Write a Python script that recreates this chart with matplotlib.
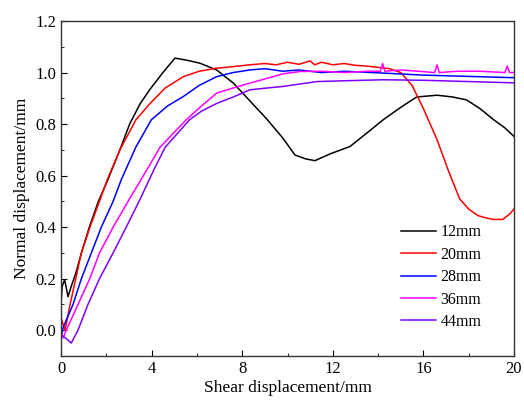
import matplotlib
matplotlib.use("Agg")
import matplotlib.pyplot as plt
from matplotlib.ticker import MultipleLocator

plt.rcParams["font.family"] = ["Liberation Serif", "DejaVu Serif"]

# Data
x12 = [0, 0.05, 0.16, 0.31, 0.45, 0.65, 0.9, 1.25, 1.65, 2.07, 2.6, 3.03, 3.5, 3.93, 4.5,
       5.03, 5.6, 6.14, 6.87, 7.61, 8.34, 9.08, 9.8, 10.33, 10.8, 11.21, 11.9, 12.76, 13.5,
       14.23, 15.0, 15.7, 16.6, 17.3, 17.9, 18.5, 19.1, 19.6, 20]
y12 = [0.10, 0.17, 0.196, 0.13, 0.17, 0.22, 0.30, 0.40, 0.50, 0.584, 0.70, 0.80, 0.88,
       0.935, 1.0, 1.056, 1.047, 1.036, 1.01, 0.959, 0.89, 0.82, 0.745, 0.68, 0.665, 0.658,
       0.685, 0.713, 0.765, 0.817, 0.865, 0.905, 0.912, 0.905, 0.894, 0.86, 0.817, 0.785,
       0.752]

x20 = [0, 0.1, 0.18, 0.4, 0.65, 0.9, 1.28, 2.07, 2.6, 3.31, 3.93, 4.6, 5.4, 6.1, 6.87, 7.5,
       8.34, 9.0, 9.5, 10.0, 10.5, 11.0, 11.2, 11.5, 12.0, 12.5, 13.0, 13.5, 14.0, 14.5,
       15.0, 15.5, 16.0, 16.6, 17.1, 17.6, 18.0, 18.4, 18.8, 19.1, 19.5, 19.8, 20.0]
y20 = [0.05, 0.02, 0.0, 0.10, 0.20, 0.30, 0.40, 0.59, 0.70, 0.817, 0.88, 0.94, 0.984,
       1.005, 1.017, 1.022, 1.03, 1.035, 1.03, 1.04, 1.032, 1.045, 1.03, 1.04, 1.03, 1.035,
       1.028, 1.025, 1.02, 1.015, 1.0, 0.95, 0.86, 0.74, 0.62, 0.51, 0.47, 0.445, 0.435,
       0.43, 0.43, 0.45, 0.47]

x28 = [0, 0.09, 0.53, 0.9, 1.34, 1.78, 2.3, 2.66, 3.3, 3.99, 4.7, 5.4, 6.1, 6.87, 7.6,
       8.34, 9.0, 9.8, 10.5, 11.5, 12.5, 14.2, 16, 18, 20]
y28 = [-0.03, 0.01, 0.10, 0.20, 0.30, 0.40, 0.50, 0.584, 0.71, 0.817, 0.87, 0.907, 0.95,
       0.984, 1.0, 1.01, 1.015, 1.005, 1.01, 1.0, 1.005, 0.998, 0.99, 0.985, 0.98]

x36 = [0, 0.1, 0.18, 0.75, 1.27, 1.7, 2.3, 2.96, 3.84, 4.37, 5.53, 6.2, 6.87, 7.6, 8.34,
       9.0, 9.8, 10.55, 11.5, 12.5, 13.5, 14.1, 14.2, 14.3, 15, 16.5, 16.6, 16.7, 17.5,
       18.5, 19.6, 19.7, 19.8, 20]
y36 = [-0.01, -0.03, -0.01, 0.10, 0.20, 0.30, 0.40, 0.50, 0.63, 0.71, 0.817, 0.87,
       0.92, 0.94, 0.959, 0.975, 0.995, 1.004, 1.005, 1.0, 1.005, 1.005, 1.035, 1.005,
       1.01, 1.0, 1.03, 1.0, 1.005, 1.005, 1.0, 1.025, 1.0, 1.0]

x44 = [0, 0.2, 0.45, 0.75, 1.19, 1.7, 2.3, 2.88, 3.5, 4.14, 4.6, 5.68, 6.2, 6.87, 7.6,
       8.34, 9.1, 9.8, 10.5, 11.3, 12.5, 14.2, 16, 18, 20]
y44 = [-0.02, -0.03, -0.05, 0.0, 0.10, 0.20, 0.30, 0.40, 0.51, 0.63, 0.71, 0.817, 0.85,
       0.88, 0.905, 0.933, 0.94, 0.946, 0.955, 0.965, 0.968, 0.972, 0.97, 0.965, 0.96]

series = [
    ("12mm", x12, y12, "black"),
    ("20mm", x20, y20, "#ff0000"),
    ("28mm", x28, y28, "#0000ff"),
    ("36mm", x36, y36, "#ff00ff"),
    ("44mm", x44, y44, "#8000ff"),
]

fig = plt.figure(figsize=(5.24, 4.01), dpi=100)
ax = fig.add_axes([61 / 524, 1 - 356 / 401, 453 / 524, 335 / 401])

for label, x, y, c in series:
    ax.plot(x, y, color=c, lw=1.1, label=label)

ax.set_xlim(0, 20)
ax.set_ylim(-0.1, 1.2)
ax.xaxis.set_major_locator(MultipleLocator(4))
ax.xaxis.set_minor_locator(MultipleLocator(2))
ax.yaxis.set_major_locator(MultipleLocator(0.2))
ax.yaxis.set_minor_locator(MultipleLocator(0.1))
ax.yaxis.set_major_formatter(plt.FormatStrFormatter("%.1f"))
ax.tick_params(which="both", direction="in", top=False, right=False, labelsize=12)
ax.tick_params(which="major", length=4)
ax.tick_params(which="minor", length=2.5)
for s in ax.spines.values():
    s.set_linewidth(1.0)
    s.set_color("#333333")

ax.set_xlabel("Shear displacement/mm", fontsize=12.5, labelpad=2)
ax.set_ylabel("Normal displacement/mm", fontsize=12.5, labelpad=4)

ax.legend(loc="lower right", bbox_to_anchor=(0.96, 0.035), frameon=False, fontsize=11.5,
          handlelength=2.2, handletextpad=0.3, labelspacing=0.4)

fig.savefig("out.png", dpi=100)
